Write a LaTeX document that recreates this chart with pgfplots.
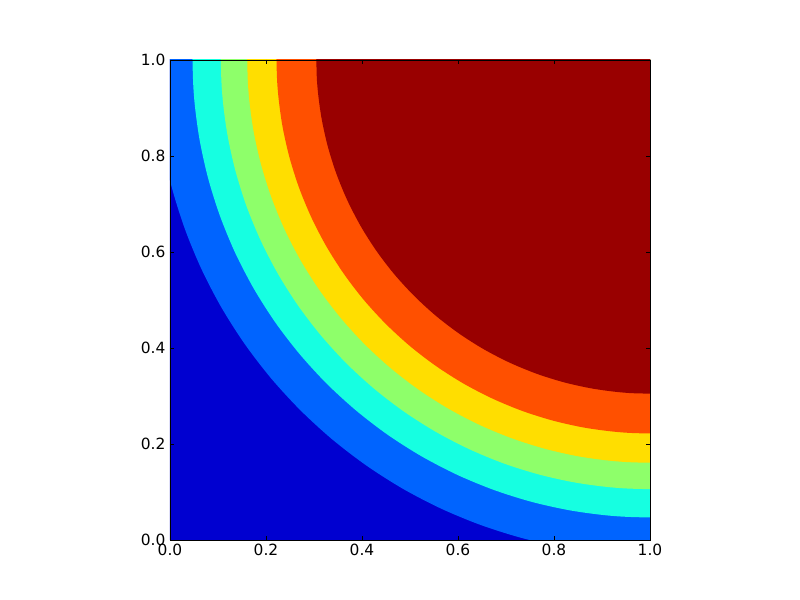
\documentclass[border=0pt]{standalone}
\usepackage{fontspec}
\setmainfont{DejaVu Sans}
\usepackage{pgfplots}
\pgfplotsset{compat=1.18}

\definecolor{cdblue}{RGB}{0,0,208}
\definecolor{clblue}{RGB}{0,100,255}
\definecolor{ccyan}{RGB}{22,255,225}
\definecolor{cgreen}{RGB}{142,255,106}
\definecolor{cyellow}{RGB}{255,222,0}
\definecolor{corange}{RGB}{255,80,0}
\definecolor{cdred}{RGB}{153,0,0}

\begin{document}
\begin{tikzpicture}
\begin{axis}[
  scale only axis,
  width=480bp, height=480bp,
  xmin=0, xmax=1, ymin=0, ymax=1,
  xtick={0,0.2,...,1}, ytick={0,0.2,...,1},
  tick align=inside,
  major tick length=4bp,
  tick style={black, line width=0.6pt},
  axis line style={line width=0.8pt},
  axis on top,
  tick label style={font=\fontsize{15.5}{18}\selectfont},
  xticklabel style={yshift=-1bp},
  yticklabel style={xshift=-1bp},
  /pgf/number format/.cd, fixed, fixed zerofill, precision=1, assume math mode=true,
]
  % background level (lowest)
  \addplot[fill=cdblue, draw=none] coordinates {(-0.05,-0.05)(1.05,-0.05)(1.05,1.05)(-0.05,1.05)} -- cycle;
  % level 2
  \addplot[fill=clblue, draw=none, smooth] coordinates {(1.2,1.2)(-0.0310,1.2)
    (-0.0310,1)(-0.0271,0.9101)(-0.0153,0.8210)(0.0041,0.7332)(0.0312,0.6474)(0.0656,0.5643)(0.1071,0.4845)(0.1555,0.4086)(0.2102,0.3373)(0.2710,0.2710)(0.3373,0.2102)(0.4086,0.1555)(0.4845,0.1071)(0.5643,0.0656)(0.6474,0.0312)(0.7332,0.0041)(0.8210,-0.0153)(0.9101,-0.0271)(1,-0.0310)
    (1.2,-0.0310)} -- cycle;
  % level 3
  \addplot[fill=ccyan, draw=none, smooth] coordinates {(1.2,1.2)(0.0470,1.2)
    (0.0470,1)(0.0506,0.9169)(0.0615,0.8345)(0.0795,0.7533)(0.1045,0.6741)(0.1363,0.5972)(0.1747,0.5235)(0.2193,0.4534)(0.2700,0.3874)(0.3261,0.3261)(0.3874,0.2700)(0.4534,0.2193)(0.5235,0.1747)(0.5972,0.1363)(0.6741,0.1045)(0.7533,0.0795)(0.8345,0.0615)(0.9169,0.0506)(1,0.0470)
    (1.2,0.0470)} -- cycle;
  % level 4
  \addplot[fill=cgreen, draw=none, smooth] coordinates {(1.2,1.2)(0.1060,1.2)
    (0.1060,1)(0.1094,0.9221)(0.1196,0.8448)(0.1365,0.7686)(0.1599,0.6942)(0.1898,0.6222)(0.2258,0.5530)(0.2677,0.4872)(0.3152,0.4253)(0.3678,0.3678)(0.4253,0.3152)(0.4872,0.2677)(0.5530,0.2258)(0.6222,0.1898)(0.6942,0.1599)(0.7686,0.1365)(0.8448,0.1196)(0.9221,0.1094)(1,0.1060)
    (1.2,0.1060)} -- cycle;
  % level 5
  \addplot[fill=cyellow, draw=none, smooth] coordinates {(1.2,1.2)(0.1610,1.2)
    (0.1610,1)(0.1642,0.9269)(0.1737,0.8543)(0.1896,0.7828)(0.2116,0.7130)(0.2396,0.6454)(0.2734,0.5805)(0.3127,0.5188)(0.3573,0.4607)(0.4067,0.4067)(0.4607,0.3573)(0.5188,0.3127)(0.5805,0.2734)(0.6454,0.2396)(0.7130,0.2116)(0.7828,0.1896)(0.8543,0.1737)(0.9269,0.1642)(1,0.1610)
    (1.2,0.1610)} -- cycle;
  % level 6
  \addplot[fill=corange, draw=none, smooth] coordinates {(1.2,1.2)(0.2220,1.2)
    (0.2220,1)(0.2250,0.9322)(0.2338,0.8649)(0.2485,0.7986)(0.2689,0.7339)(0.2949,0.6712)(0.3262,0.6110)(0.3627,0.5538)(0.4040,0.4999)(0.4499,0.4499)(0.4999,0.4040)(0.5538,0.3627)(0.6110,0.3262)(0.6712,0.2949)(0.7339,0.2689)(0.7986,0.2485)(0.8649,0.2338)(0.9322,0.2250)(1,0.2220)
    (1.2,0.2220)} -- cycle;
  % level 7 (highest)
  \addplot[fill=cdred, draw=none, smooth] coordinates {(1.2,1.2)(0.3050,1.2)
    (0.3050,1)(0.3076,0.9394)(0.3156,0.8793)(0.3287,0.8201)(0.3469,0.7623)(0.3701,0.7063)(0.3981,0.6525)(0.4307,0.6014)(0.4676,0.5533)(0.5086,0.5086)(0.5533,0.4676)(0.6014,0.4307)(0.6525,0.3981)(0.7063,0.3701)(0.7623,0.3469)(0.8201,0.3287)(0.8793,0.3156)(0.9394,0.3076)(1,0.3050)
    (1.2,0.3050)} -- cycle;
\end{axis}
\path ([shift={(-170bp,-60bp)}]current axis.south west)
  rectangle ([shift={(150bp,60bp)}]current axis.north east);
\end{tikzpicture}
\end{document}
